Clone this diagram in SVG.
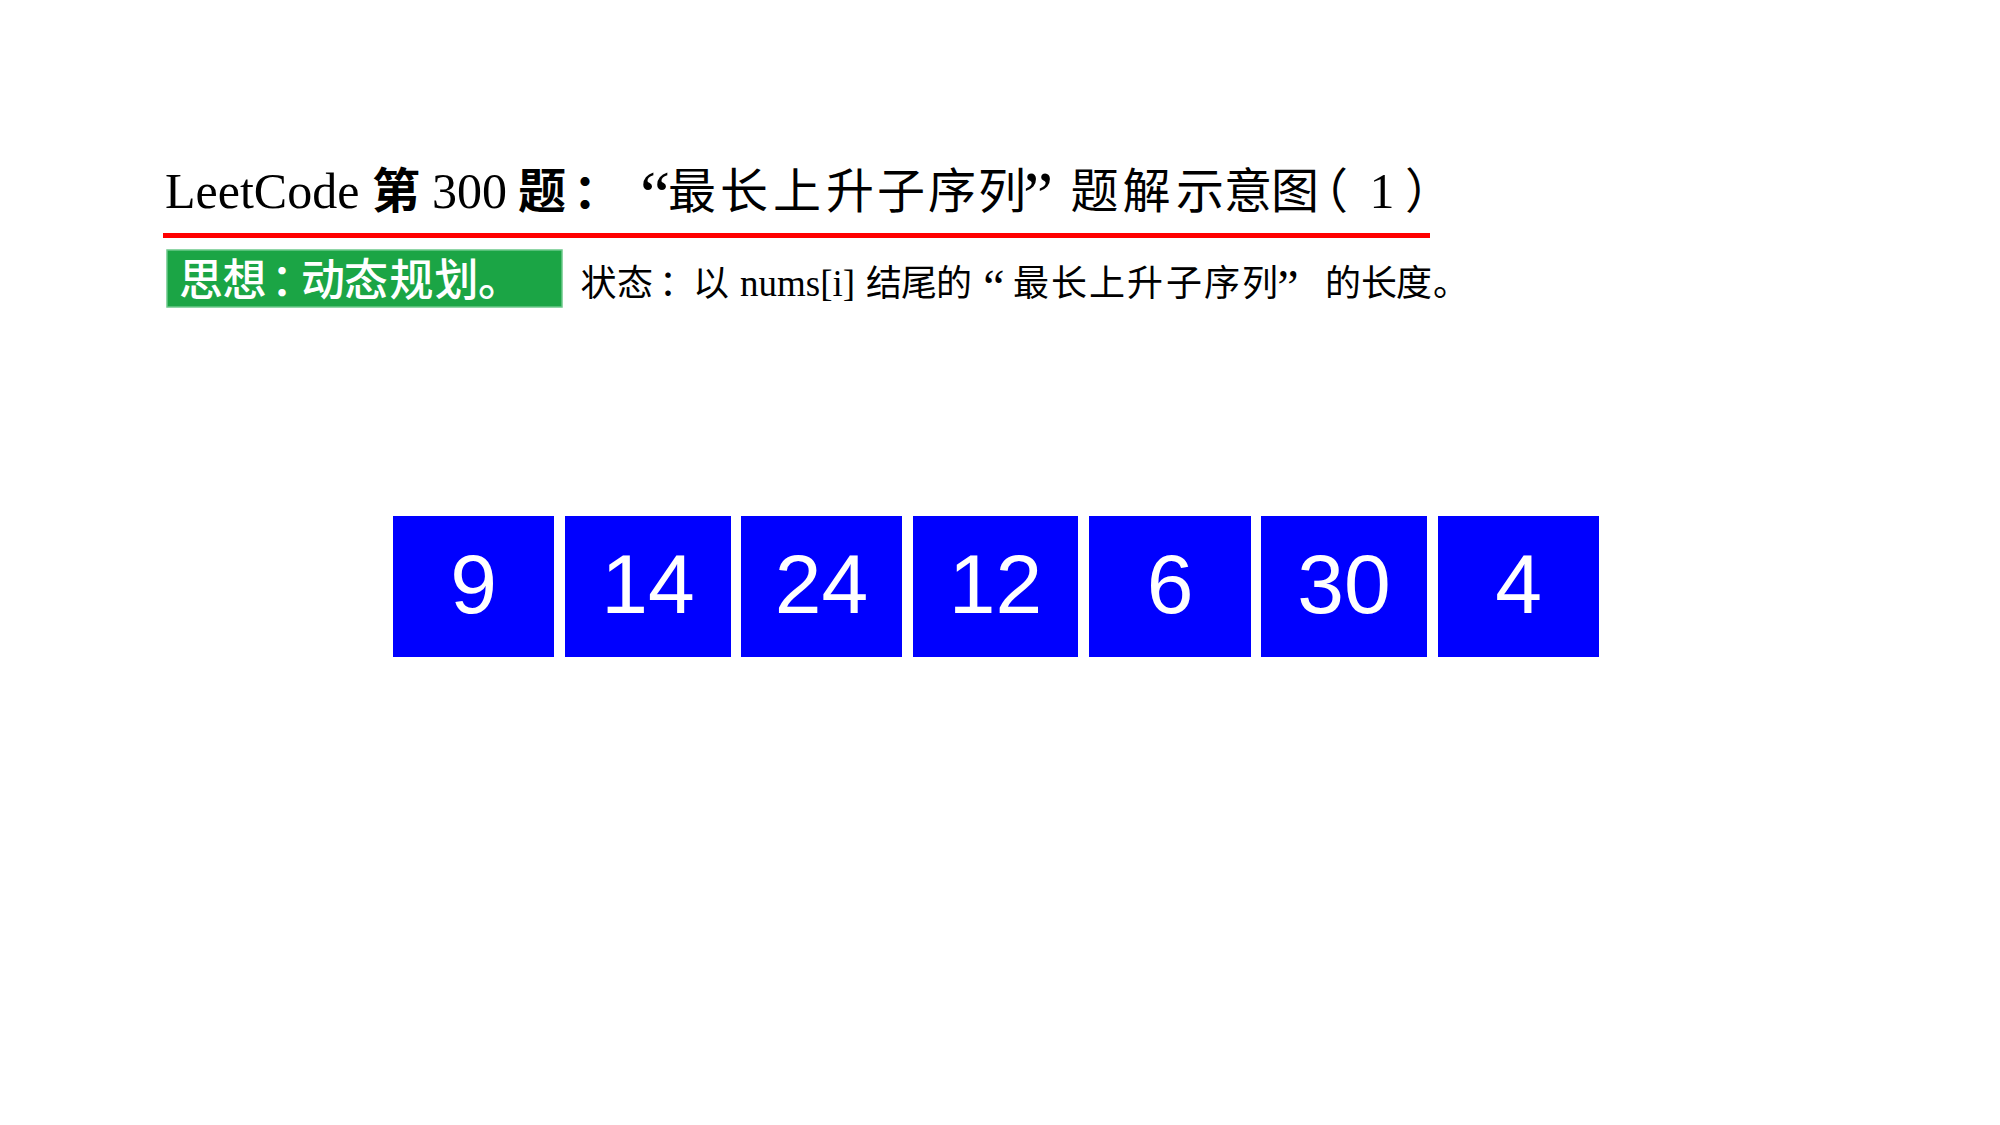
<svg xmlns="http://www.w3.org/2000/svg" width="2000" height="1125" viewBox="0 0 2000 1125">
  <style>
    .lat { font-family: "Liberation Serif", "Times New Roman", serif; fill: #000; }
    .cjk { font-family: "Noto Sans CJK SC", "Noto Sans", sans-serif; fill: #000; }
    .mid { text-anchor: middle; }
    .cell { fill: #0000ff; }
    .num { font-family: "Liberation Sans", Arial, sans-serif; font-size: 84px; fill: #ffffff; text-anchor: middle; }
    .tag { font-family: "Noto Sans CJK SC", "Noto Sans", sans-serif; font-size: 44px; font-weight: 500; fill: #ffffff; }
  </style>
  <rect x="0" y="0" width="2000" height="1125" fill="#ffffff"/>

  <g id="title">
    <text class="lat" x="165" y="208" font-size="50">LeetCode</text>
    <text class="cjk mid" font-size="48" font-weight="bold" x="396" y="208">第</text>
    <text class="lat" x="432" y="208" font-size="50">300</text>
    <text class="cjk mid" font-size="48" font-weight="bold" x="542" y="208">题</text>
    <text class="cjk" font-size="48" font-weight="bold" x="573" y="208">：</text>
    <text class="lat mid" font-size="68" x="655" y="218">“</text>
    <text class="cjk mid" font-size="48" x="692 744 797 850 901 952 1002" y="208">最长上升子序列</text>
    <text class="lat mid" font-size="68" x="1038" y="218">”</text>
    <text class="cjk mid" font-size="48" x="1094.5 1146.5 1200 1248 1295" y="208">题解示意图</text>
    <text class="cjk" font-size="48" x="1300" y="208">（</text>
    <text class="lat mid" font-size="50" x="1382" y="208">1</text>
    <text class="cjk" font-size="48" x="1405" y="208">）</text>
  </g>

  <g id="underline">
    <rect x="163" y="233" width="1267" height="5" fill="#ff0000"/>
  </g>

  <g id="idea-tag">
    <rect x="167" y="250" width="395" height="57" fill="#1ba545" stroke="#6cc98a" stroke-width="1.5"/>
    <text class="tag mid" x="201 244.5" y="296">思想</text>
    <text class="tag" x="271" y="296">：</text>
    <text class="tag mid" x="323 366 411.5 456.5" y="296">动态规划</text>
    <text class="tag" x="478" y="296">。</text>
  </g>

  <g id="state-text">
    <text class="cjk mid" font-size="36" x="598.5 635" y="296">状态</text>
    <text class="cjk" font-size="36" x="659" y="296">：</text>
    <text class="cjk mid" font-size="36" x="711" y="296">以</text>
    <text class="lat" font-size="37" x="740" y="296">nums[i]</text>
    <text class="cjk mid" font-size="36" x="884 919 954" y="296">结尾的</text>
    <text class="lat mid" font-size="48" x="994" y="303">“</text>
    <text class="cjk mid" font-size="36" x="1031 1069 1107 1145 1184 1222 1260" y="296">最长上升子序列</text>
    <text class="lat mid" font-size="48" x="1288" y="303">”</text>
    <text class="cjk mid" font-size="36" x="1343 1379 1414" y="296">的长度</text>
    <text class="cjk" font-size="36" x="1433" y="296">。</text>
  </g>

  <g id="cell-0"><rect class="cell" x="393" y="516" width="161" height="141"/><text class="num" x="473.5" y="613">9</text></g>
  <g id="cell-1"><rect class="cell" x="565" y="516" width="166" height="141"/><text class="num" x="648" y="613">14</text></g>
  <g id="cell-2"><rect class="cell" x="741" y="516" width="161" height="141"/><text class="num" x="821.5" y="613">24</text></g>
  <g id="cell-3"><rect class="cell" x="913" y="516" width="165" height="141"/><text class="num" x="995.5" y="613">12</text></g>
  <g id="cell-4"><rect class="cell" x="1089" y="516" width="162" height="141"/><text class="num" x="1170" y="613">6</text></g>
  <g id="cell-5"><rect class="cell" x="1261" y="516" width="166" height="141"/><text class="num" x="1344" y="613">30</text></g>
  <g id="cell-6"><rect class="cell" x="1438" y="516" width="161" height="141"/><text class="num" x="1518.5" y="613">4</text></g>
</svg>
